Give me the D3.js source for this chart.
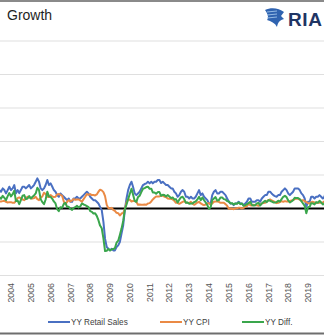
<!DOCTYPE html>
<html lang="en">
<head>
<meta charset="utf-8">
<title>Retail Sales vs CPI Growth</title>
<script src="https://d3js.org/d3.v7.min.js"></script>
<style>
  body { margin: 0; background: #fff; }
  svg { display: block; font-family: "Liberation Sans", Arial, sans-serif; }
</style>
</head>
<body>
<script>
// monthly YoY % values, Jan 2003 .. Dec 2019 (one row per year)
var firstMonth = new Date(2003, 0, 1);

var retailSales = [
  3.0, 3.5, 3.0, 3.5, 4.0, 5.5, 5.0, 6.0, 5.5, 4.5, 5.5, 6.5,
  5.5, 6.0, 7.0, 4.5, 5.5, 4.6, 5.5, 6.5, 6.5, 6.0, 6.5, 7.0,
  6.0, 6.5, 7.0, 8.0, 9.0, 8.0, 6.0, 5.5, 6.0, 7.0, 8.5, 7.0,
  7.5, 6.5, 5.5, 5.0, 4.0, 3.5, 4.5, 4.0, 3.5, 3.0, 2.5, 3.0,
  2.0, 2.0, 3.0, 3.0, 3.5, 3.0, 3.0, 3.5, 4.0, 4.5, 5.0, 4.5,
  3.5, 3.0, 2.5, 2.5, 2.0, 1.5, 0.5, -0.5, -4.0, -9.0, -11.5, -12.0,
  -12.5, -12.0, -12.5, -12.5, -11.5, -11.0, -10.0, -7.5, -5.0, -0.5, 3.0, 5.5,
  7.0, 8.0, 6.5, 4.5, 4.0, 4.5, 5.0, 6.0, 7.0, 7.3, 7.5, 8.0,
  7.5, 8.0, 7.5, 8.0, 8.0, 8.5, 8.5, 7.6, 8.0, 7.5, 7.0, 7.0,
  6.5, 6.0, 6.0, 5.0, 4.5, 3.5, 4.0, 5.0, 5.5, 5.0, 3.5, 3.5,
  3.0, 3.5, 3.0, 3.0, 3.5, 4.5, 5.5, 4.0, 4.5, 3.5, 3.0, 2.5,
  1.5, 1.5, 4.0, 5.0, 5.5, 4.5, 4.5, 5.0, 5.0, 4.5, 4.0, 3.0,
  2.0, 1.5, 1.5, 1.0, 1.5, 1.5, 2.0, 1.5, 1.5, 1.0, 1.5, 2.0,
  3.0, 3.0, 2.0, 2.0, 2.0, 2.5, 2.5, 2.0, 3.0, 3.5, 4.0, 4.0,
  5.0, 5.0, 4.5, 4.0, 3.7, 3.5, 4.0, 4.0, 5.0, 5.5, 6.0, 5.5,
  4.5, 4.0, 4.5, 5.0, 6.0, 6.0, 6.0, 5.5, 4.5, 4.0, 3.0, 0.5,
  2.0, 2.0, 3.5, 3.5, 3.0, 3.5, 3.5, 4.0, 3.5, 3.0, 3.5, 5.5
];

var cpi = [
  2.6, 3.0, 3.0, 2.2, 2.1, 2.1, 2.1, 2.2, 2.3, 2.0, 1.8, 1.9,
  1.9, 1.7, 1.7, 2.3, 3.1, 3.3, 3.0, 2.7, 2.5, 3.2, 3.5, 3.3,
  3.0, 3.0, 3.1, 3.5, 2.8, 2.5, 3.2, 3.6, 4.7, 4.3, 3.5, 3.4,
  4.0, 3.6, 3.4, 3.5, 4.2, 4.3, 4.1, 3.8, 2.1, 1.3, 2.0, 2.5,
  2.1, 2.4, 2.8, 2.6, 2.7, 2.7, 2.4, 2.0, 2.8, 3.5, 4.3, 4.1,
  4.3, 4.0, 4.0, 3.9, 4.2, 5.0, 5.6, 5.4, 4.9, 3.7, 1.1, 0.1,
  0.0, 0.2, -0.4, -0.7, -1.3, -1.4, -2.1, -1.5, -1.3, -0.2, 1.8, 2.7,
  2.6, 2.1, 2.3, 2.2, 2.0, 1.1, 1.2, 1.1, 1.1, 1.2, 1.1, 1.5,
  1.6, 2.1, 2.7, 3.2, 3.6, 3.6, 3.6, 3.8, 3.9, 3.5, 3.4, 3.0,
  2.9, 2.9, 2.7, 2.3, 1.7, 1.7, 1.4, 1.7, 2.0, 2.2, 1.8, 1.7,
  1.6, 2.0, 1.5, 1.1, 1.4, 1.8, 2.0, 1.5, 1.2, 1.0, 1.2, 1.5,
  1.6, 1.1, 1.5, 2.0, 2.1, 2.1, 2.0, 1.7, 1.7, 1.7, 1.3, 0.8,
  -0.1, 0.0, -0.1, -0.2, 0.0, 0.1, 0.2, 0.2, 0.0, 0.2, 0.5, 0.7,
  1.4, 1.0, 0.9, 1.1, 1.0, 1.0, 0.8, 1.1, 1.5, 1.6, 1.7, 2.1,
  2.5, 2.7, 2.4, 2.2, 1.9, 1.6, 1.7, 1.9, 2.2, 2.0, 2.2, 2.1,
  2.1, 2.2, 2.4, 2.5, 2.8, 2.9, 2.9, 2.7, 2.3, 2.5, 2.2, 1.9,
  1.6, 1.5, 1.9, 2.0, 1.8, 1.6, 1.8, 1.7, 1.7, 1.8, 2.1, 2.3
];

var diff = [
  0.4, 0.5, 0.0, 1.3, 1.9, 3.4, 2.9, 3.8, 3.2, 2.5, 3.7, 4.6,
  3.6, 4.3, 5.3, 2.2, 2.4, 1.3, 2.5, 3.8, 4.0, 2.8, 3.0, 3.7,
  3.0, 3.5, 3.9, 4.5, 6.2, 5.5, 2.8, 1.9, 1.3, 2.7, 5.0, 3.6,
  3.5, 2.9, 2.1, 1.5, -0.2, -0.8, 0.4, 0.2, 1.4, 1.7, 0.5, 0.5,
  -0.1, -0.4, 0.2, 0.4, 0.8, 0.3, 0.6, 1.5, 1.2, 1.0, 0.7, 0.4,
  -0.8, -1.0, -1.5, -1.4, -2.2, -3.5, -5.1, -5.9, -8.9, -12.7, -12.6, -12.1,
  -12.5, -12.2, -12.1, -11.8, -10.2, -9.6, -7.9, -6.0, -3.7, -0.3, 1.2, 2.8,
  4.4, 5.9, 4.2, 2.3, 2.0, 3.4, 3.8, 4.9, 5.9, 6.1, 6.4, 6.5,
  5.9, 5.9, 4.8, 4.8, 4.4, 4.9, 4.9, 3.8, 4.1, 4.0, 3.6, 4.0,
  3.6, 3.1, 3.3, 2.7, 2.8, 1.8, 2.6, 3.3, 3.5, 2.8, 1.7, 1.8,
  1.4, 1.5, 1.5, 1.9, 2.1, 2.7, 3.5, 2.5, 3.3, 2.5, 1.8, 1.0,
  -0.1, 0.4, 2.5, 3.0, 3.4, 2.4, 2.5, 3.3, 3.3, 2.8, 2.7, 2.2,
  2.1, 1.5, 1.6, 1.2, 1.5, 1.4, 1.8, 1.3, 1.5, 0.8, 1.0, 1.3,
  1.6, 2.0, 1.1, 0.9, 1.0, 1.5, 1.7, 0.9, 1.5, 1.9, 2.3, 1.9,
  2.5, 2.3, 2.1, 1.8, 1.8, 1.9, 2.3, 2.1, 2.8, 3.5, 3.8, 3.4,
  2.4, 1.8, 2.1, 2.5, 3.2, 3.1, 3.1, 2.8, 2.2, 1.5, 0.8, -1.4,
  0.4, 0.5, 1.6, 1.5, 1.2, 1.9, 1.7, 2.3, 1.8, 1.2, 1.4, 3.2
];

var yearLabels = ["2004","2005","2006","2007","2008","2009","2010","2011",
                  "2012","2013","2014","2015","2016","2017","2018","2019"];
var yTicks = [-20, -10, 0, 10, 20, 30, 40, 50];

var seriesNames = ["YY Retail Sales", "YY CPI", "YY Diff."];
var seriesColors = ["#4a70c2", "#ea8a45", "#3aa64c"];

var w = 324, h = 335;
var svg = d3.select("body").append("svg").attr("width", w).attr("height", h);

// scales (date axis: year labels sit on January)
var x = d3.scaleTime()
  .domain([new Date(2004, 0, 1), new Date(2019, 0, 1)])
  .range([11, 308]);
var y = d3.scaleLinear().domain([-20, 50]).range([275.5, 41]);

// frame lines
svg.append("line").attr("x1", 0).attr("x2", w).attr("y1", 1).attr("y2", 1)
  .attr("stroke", "#8a8a8a").attr("stroke-width", 2);
svg.append("line").attr("x1", 0).attr("x2", w).attr("y1", 333.5).attr("y2", 333.5)
  .attr("stroke", "#6e6e6e").attr("stroke-width", 2);

// title (cut at the left edge)
svg.append("text").attr("x", 7).attr("y", 20)
  .attr("font-size", 14).attr("fill", "#1e1e1e").text("Growth");

// RIA logo
var logo = svg.append("g").attr("transform", "translate(265,8)");
logo.append("path")
  .attr("d", "M0,2 C6,-1 14,0 19,4 L16,8 L19,11 C15,12 13,14 12,19 C10,15 6,13 2,12 C4,10 3,6 0,2 Z")
  .attr("fill", "#2f63b0");
logo.selectAll("line.stripe").data([4, 7, 10]).enter().append("line")
  .attr("x1", 2).attr("x2", 12).attr("y1", function(d){ return d; }).attr("y2", function(d){ return d - 1; })
  .attr("stroke", "#9fc3ea").attr("stroke-width", 0.9);
svg.append("text").attr("x", 288).attr("y", 26)
  .attr("font-size", 19).attr("font-weight", "bold").attr("letter-spacing", 0.6)
  .attr("fill", "#1f3564")
  .text("RIA");

// gridlines
svg.append("g").selectAll("line").data(yTicks.filter(function(d){ return d !== 0; })).enter()
  .append("line")
  .attr("x1", 0).attr("x2", w)
  .attr("y1", function(d){ return y(d); }).attr("y2", function(d){ return y(d); })
  .attr("stroke", "#dfdfdf").attr("stroke-width", 1.2);

// zero line
svg.append("line").attr("x1", 0).attr("x2", w).attr("y1", y(0)).attr("y2", y(0))
  .attr("stroke", "#000").attr("stroke-width", 2);

// series
svg.append("clipPath").attr("id", "plot").append("rect")
  .attr("x", 0).attr("y", 30).attr("width", w).attr("height", 250);

var months = retailSales.map(function(d, i){ return d3.timeMonth.offset(firstMonth, i); });
var line = d3.line()
  .x(function(d, i){ return x(months[i]); })
  .y(function(d){ return y(d); });

var plot = svg.append("g").attr("clip-path", "url(#plot)");
[retailSales, cpi, diff].forEach(function(s, k){
  plot.append("path").datum(s)
    .attr("d", line)
    .attr("fill", "none")
    .attr("stroke", seriesColors[k])
    .attr("stroke-width", 2)
    .attr("stroke-linejoin", "round");
});

// year labels (rotated)
svg.append("g").selectAll("text").data(yearLabels).enter().append("text")
  .attr("transform", function(d){ return "translate(" + x(new Date(+d, 0, 1)) + ",283) rotate(-90)"; })
  .attr("text-anchor", "end")
  .attr("dy", "0.35em")
  .attr("font-size", 8.8)
  .attr("fill", "#555")
  .text(function(d){ return d; });

// legend
var legendX = [48, 160, 242];
var leg = svg.append("g").selectAll("g").data(seriesNames).enter().append("g")
  .attr("transform", function(d, i){ return "translate(" + legendX[i] + ",322)"; });
leg.append("line").attr("x1", 0).attr("x2", 22).attr("y1", 0).attr("y2", 0)
  .attr("stroke", function(d, i){ return seriesColors[i]; }).attr("stroke-width", 2);
leg.append("text").attr("x", 23).attr("dy", "0.35em")
  .attr("font-size", 8.2).attr("fill", "#404040")
  .text(function(d){ return d; });
</script>
</body>
</html>
